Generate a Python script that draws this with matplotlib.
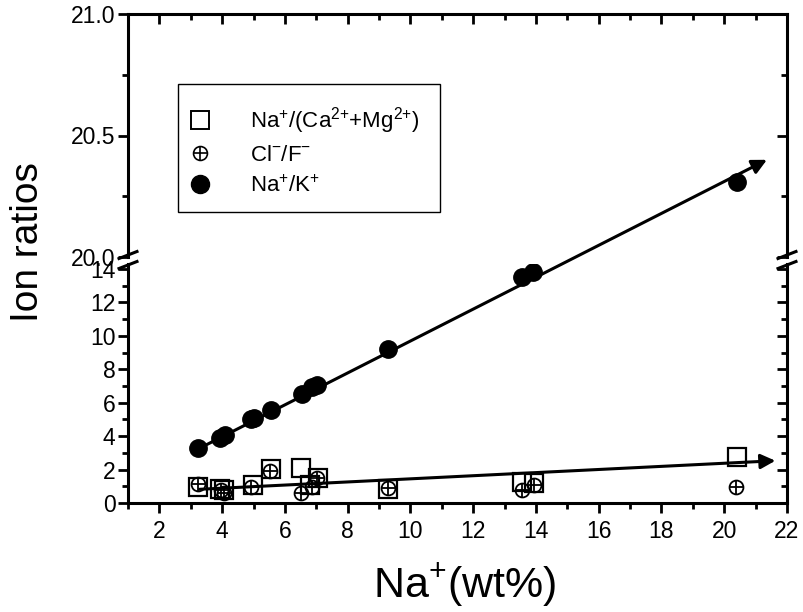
import matplotlib
matplotlib.use("Agg")
import matplotlib.pyplot as plt
from matplotlib.lines import Line2D
from matplotlib.patches import ConnectionPatch, Rectangle
from matplotlib.legend_handler import HandlerTuple
from matplotlib.ticker import MultipleLocator, FormatStrFormatter

plt.rcParams["font.family"] = ["Liberation Sans", "DejaVu Sans"]
plt.rcParams["mathtext.fontset"] = "custom"
plt.rcParams["mathtext.rm"] = "Liberation Sans"
plt.rcParams["mathtext.it"] = "Liberation Sans"
plt.rcParams["mathtext.default"] = "regular"

# Na+ content (wt%) and ion ratios
na_k_x = [3.22, 3.92, 4.08, 4.93, 5.03, 5.57, 6.53, 6.85, 7.01, 9.30, 13.55, 13.90, 20.40]
na_k_y = [3.27, 3.90, 4.05, 5.00, 5.10, 5.59, 6.55, 6.94, 7.04, 9.19, 13.50, 13.85, 20.31]

na_camg_x = [3.22, 3.94, 4.05, 4.97, 5.57, 6.51, 6.80, 7.05, 9.27, 13.57, 13.95, 20.40]
na_camg_y = [0.93, 0.82, 0.75, 1.07, 2.01, 2.07, 1.07, 1.47, 0.84, 1.27, 1.17, 2.76]

cl_f_x = [3.22, 3.97, 4.05, 4.93, 5.54, 6.50, 6.85, 7.01, 9.27, 13.57, 13.93, 20.38]
cl_f_y = [1.13, 0.78, 0.62, 0.97, 1.90, 0.58, 0.97, 1.50, 0.92, 0.78, 1.07, 0.94]

# trend arrows (start point, end point)
na_k_trend = [(3.2, 3.2), (21.36, 20.40)]
na_camg_trend = [(3.28, 0.82), (21.63, 2.53)]

labels = [r"Na$^{+}$/(Ca$^{2{+}}$+Mg$^{2{+}}$)", r"Cl$^{-}$/F$^{-}$", r"Na$^{+}$/K$^{+}$"]

W, H = 804, 612
fig = plt.figure(figsize=(W / 100, H / 100), dpi=100)

L, R = 128, 787


def box(top, bottom):
    return [L / W, 1 - bottom / H, (R - L) / W, (bottom - top) / H]


ax_top = fig.add_axes(box(14, 257))
ax_bot = fig.add_axes(box(264, 503))

spine_lw = 2.2
for ax in (ax_top, ax_bot):
    ax.set_xlim(1, 22)
    for s in ax.spines.values():
        s.set_linewidth(spine_lw)
    ax.xaxis.set_major_locator(MultipleLocator(2))
    ax.xaxis.set_minor_locator(MultipleLocator(1))
    ax.tick_params(which="major", length=7, width=2, labelsize=16.5)
    ax.tick_params(which="minor", length=4, width=2)

ax_top.set_ylim(20.0, 21.0)
ax_top.yaxis.set_major_locator(MultipleLocator(0.5))
ax_top.yaxis.set_minor_locator(MultipleLocator(0.25))
ax_top.yaxis.set_major_formatter(FormatStrFormatter("%.1f"))
ax_top.spines["bottom"].set_visible(False)
ax_top.spines["right"].set_visible(False)
ax_top.tick_params(axis="x", which="both", bottom=False, labelbottom=False,
                   top=True, direction="in")
ax_top.tick_params(axis="y", which="both", direction="out", pad=2)

ax_bot.set_ylim(0, 14.3)
ax_bot.yaxis.set_major_locator(MultipleLocator(2))
ax_bot.yaxis.set_minor_locator(MultipleLocator(1))
ax_bot.spines["top"].set_visible(False)
ax_bot.spines["right"].set_visible(False)
ax_bot.tick_params(which="both", direction="out")
ax_bot.tick_params(axis="y", pad=2)
ax_bot.tick_params(axis="x", which="major", pad=5)

# right-hand spines with inward ticks
for ax, major, minor in ((ax_top, 0.5, 0.25), (ax_bot, 2, 1)):
    sec = ax.secondary_yaxis("right")
    sec.yaxis.set_major_locator(MultipleLocator(major))
    sec.yaxis.set_minor_locator(MultipleLocator(minor))
    sec.tick_params(which="major", direction="in", length=7, width=2, labelright=False)
    sec.tick_params(which="minor", direction="in", length=4, width=2)
    sec.spines["right"].set_linewidth(spine_lw)

# data
ax_bot.plot(na_camg_x, na_camg_y, "s", ms=13, mfc="none", mec="k", mew=1.6, zorder=3)
ax_bot.plot(cl_f_x, cl_f_y, "o", ms=10, mfc="none", mec="k", mew=1.3, zorder=4)
ax_bot.plot(cl_f_x, cl_f_y, "+", ms=10, mec="k", mew=1.3, zorder=4)
ax_bot.plot(na_k_x, na_k_y, "o", ms=12.5, color="k", zorder=5)
ax_top.plot(na_k_x, na_k_y, "o", ms=12.5, color="k", zorder=5)

# trend arrows; the Na+/K+ one runs straight across the axis break
con = ConnectionPatch(xyA=na_k_trend[0], coordsA=ax_bot.transData,
                      xyB=na_k_trend[1], coordsB=ax_top.transData,
                      arrowstyle="-|>", lw=2.2, color="k", mutation_scale=22,
                      shrinkA=0, shrinkB=0, zorder=6)
fig.add_artist(con)
ax_bot.annotate("", xy=na_camg_trend[1], xytext=na_camg_trend[0],
                arrowprops=dict(arrowstyle="-|>", lw=2.2, color="k",
                                mutation_scale=22, shrinkA=0, shrinkB=0),
                annotation_clip=False)

# axis break marks
for xc in (L, R):
    for yc in (255, 265):
        fig.add_artist(Line2D([(xc - 9) / W, (xc + 9) / W],
                              [1 - (yc + 3.5) / H, 1 - (yc - 3.5) / H],
                              color="k", lw=2.2))

# legend: frameless, with a separate box drawn round it
h_sq = Line2D([], [], ls="none", marker="s", ms=13, mfc="none", mec="k", mew=1.4)
h_c1 = Line2D([], [], ls="none", marker="o", ms=10, mfc="none", mec="k", mew=1.2)
h_c2 = Line2D([], [], ls="none", marker="+", ms=10, mec="k", mew=1.2)
h_dot = Line2D([], [], ls="none", marker="o", ms=13, color="k")
ax_top.legend([h_sq, (h_c1, h_c2), h_dot], labels,
              handler_map={tuple: HandlerTuple(ndivide=1, pad=0)},
              loc="center left", bbox_to_anchor=(187 / W, 1 - 151 / H),
              bbox_transform=fig.transFigure,
              borderaxespad=0, borderpad=0, fontsize=16, frameon=False,
              labelspacing=0.42, handlelength=1.17, handletextpad=1.65)
fig.add_artist(Rectangle((178 / W, 1 - 212 / H), (440 - 178) / W, (212 - 84) / H,
                         transform=fig.transFigure, fill=False, ec="k", lw=1.0))

fig.text(28 / W, 1 - 242 / H, "Ion ratios", rotation=90, ha="center", va="center",
         fontsize=28)
fig.text(465 / W, 1 - 585 / H, r"Na$^{+}$(wt%)", ha="center", va="center",
         fontsize=31)

fig.savefig("out.png", dpi=100)
